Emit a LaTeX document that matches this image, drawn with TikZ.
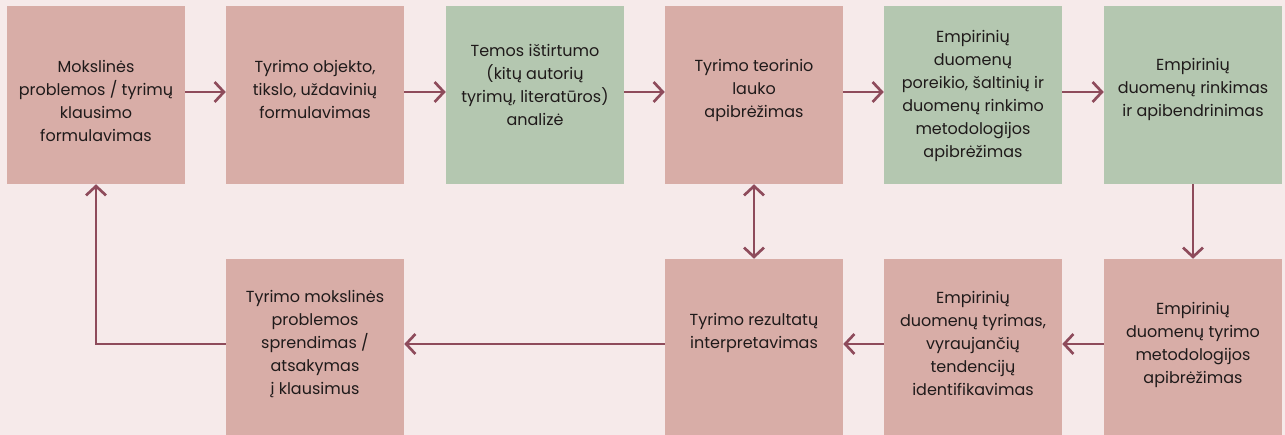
\documentclass[tikz,border=0pt]{standalone}
\usepackage{fontspec}
\setmainfont{Poppins}
\usepackage{tikz}
\usetikzlibrary{arrows.meta}
\usepackage{xcolor}
\definecolor{bgpink}{HTML}{F6EAEA}
\definecolor{boxpink}{HTML}{D8ADA7}
\definecolor{boxgreen}{HTML}{B4C7B0}
\definecolor{linkred}{HTML}{8E4B5B}
\definecolor{inktext}{HTML}{1F1A1A}

\begin{document}
\begin{tikzpicture}[
    x=0.75pt, y=-0.75pt,
    stage/.style={minimum width=133.5pt, minimum height=133.5pt, inner sep=0pt},
    caption/.style={inner sep=0pt, align=center, text=inktext, font=\fontsize{12}{17.25}\selectfont},
    arrow/.style={-{Straight Barb[length=7pt,width=15pt]}, line width=2pt, draw=linkred}
]
% Background
\fill[bgpink] (0,0) rectangle (1285,435);
\useasboundingbox (0,0) rectangle (1285,435);

% Top row
\node[stage, fill=boxpink, label={[caption, yshift=-4.5pt]center:{Mokslinės\\problemos / tyrimų\\klausimo\\formulavimas}}] (problem) at (96,95) {};
\node[stage, fill=boxpink, label={[caption, yshift=4.1pt]center:{Tyrimo objekto,\\tikslo, uždavinių\\formulavimas}}] (objective) at (315,95) {};
\node[stage, fill=boxgreen, label={[caption, yshift=7.5pt]center:{Temos ištirtumo\\(kitų autorių\\tyrimų, literatūros)\\analizė}}] (review) at (535,95) {};
\node[stage, fill=boxpink, label={[caption, yshift=3.75pt]center:{Tyrimo teorinio\\lauko\\apibrėžimas}}] (theory) at (754,95) {};
\node[stage, fill=boxgreen, label={[caption, yshift=-1.1pt]center:{Empirinių\\duomenų\\poreikio, šaltinių ir\\duomenų rinkimo\\metodologijos\\apibrėžimas}}] (needs) at (973,95) {};
\node[stage, fill=boxgreen, label={[caption, yshift=4.1pt]center:{Empirinių\\duomenų rinkimas\\ir apibendrinimas}}] (collect) at (1193,95) {};

% Bottom row
\node[stage, fill=boxpink, label={[caption, yshift=2.25pt]center:{Empirinių\\duomenų tyrimo\\metodologijos\\apibrėžimas}}] (method) at (1193,348) {};
\node[stage, fill=boxpink, label={[caption, yshift=3.75pt]center:{Empirinių\\duomenų tyrimas,\\vyraujančių\\tendencijų\\identifikavimas}}] (analysis) at (973,348) {};
\node[stage, fill=boxpink, label={[caption, yshift=11pt]center:{Tyrimo rezultatų\\interpretavimas}}] (interpret) at (754,348) {};
\node[stage, fill=boxpink, label={[caption, yshift=3pt]center:{Tyrimo mokslinės\\problemos\\sprendimas /\\atsakymas\\į klausimus}}] (answer) at (315,348) {};

% Arrows
\begin{scope}[transform canvas={yshift=2.25pt}]
\draw[arrow] (problem) -- (objective);
\draw[arrow] (objective) -- (review);
\draw[arrow] (review) -- (theory);
\draw[arrow] (theory) -- (needs);
\draw[arrow] (needs) -- (collect);
\end{scope}
\draw[arrow] (collect) -- (method);
\begin{scope}[transform canvas={yshift=3pt}]
\draw[arrow] (method) -- (analysis);
\draw[arrow] (analysis) -- (interpret);
\draw[arrow] (interpret) -- (answer);
\end{scope}
\draw[arrow, {Straight Barb[length=7pt,width=15pt]}-{Straight Barb[length=7pt,width=15pt]}] (theory) -- (interpret);

% Feedback loop
\draw[arrow] ([yshift=3pt]answer.west) -| (problem.south);

\end{tikzpicture}
\end{document}
